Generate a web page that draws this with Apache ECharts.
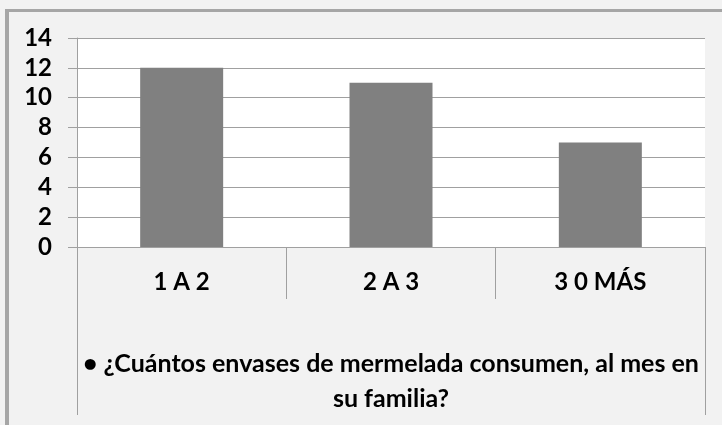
<!DOCTYPE html>
<html>
<head>
<meta charset="utf-8">
<script src="https://cdn.jsdelivr.net/npm/echarts@6/dist/echarts.min.js"></script>
<style>
  html, body { margin: 0; padding: 0; background: #f2f2f2; }
  #chart { width: 722px; height: 425px; }
</style>
</head>
<body>
<div id="chart"></div>
<script>
// datos
const categories = ['1 A 2', '2 A 3', '3 0 MÁS'];
const values = [12, 11, 7];
const groupLabel = ['• ¿Cuántos envases de mermelada consumen, al mes en\nsu familia?'];

const font = 'Lato, "Open Sans", sans-serif';
const gray = '#a0a0a0';

const chart = echarts.init(document.getElementById('chart'));
chart.setOption({
  backgroundColor: '#f2f2f2',
  animation: false,
  // marco exterior
  graphic: [
    { type: 'rect', left: 5, top: 9, shape: { width: 722, height: 3 }, style: { fill: '#a6a6a6' } },
    { type: 'rect', left: 5, top: 9, shape: { width: 4, height: 425 }, style: { fill: '#a6a6a6' } }
  ],
  grid: {
    left: 77, right: 17, top: 38, bottom: 178,
    backgroundColor: '#fff', show: true, borderWidth: 0,
    outerBoundsMode: 'none', containLabel: false
  },
  xAxis: [
    {
      type: 'category',
      data: categories,
      axisLine: { lineStyle: { color: gray } },
      axisTick: { show: true, interval: 0, length: 52, lineStyle: { color: gray } },
      axisLabel: { fontFamily: font, fontWeight: 'bold', fontSize: 24, color: '#000', margin: 23 }
    },
    {
      type: 'category',
      data: groupLabel,
      position: 'bottom',
      offset: 52,
      axisLine: { show: false, lineStyle: { color: gray } },
      axisTick: { show: true, length: 116, lineStyle: { color: gray } },
      axisLabel: {
        fontFamily: font, fontWeight: 'bold', fontSize: 25, color: '#000',
        margin: 47, lineHeight: 35, align: 'center'
      }
    }
  ],
  yAxis: {
    type: 'value',
    min: 0,
    max: 14,
    interval: 2,
    axisLine: { show: true, lineStyle: { color: gray } },
    axisTick: { show: true, length: 9, lineStyle: { color: gray } },
    splitLine: { lineStyle: { color: gray } },
    axisLabel: { fontFamily: font, fontWeight: 'bold', fontSize: 24, color: '#000', margin: 25 }
  },
  series: [
    {
      type: 'bar',
      data: values,
      barWidth: 83,
      itemStyle: { color: '#808080' }
    }
  ]
});
</script>
</body>
</html>
